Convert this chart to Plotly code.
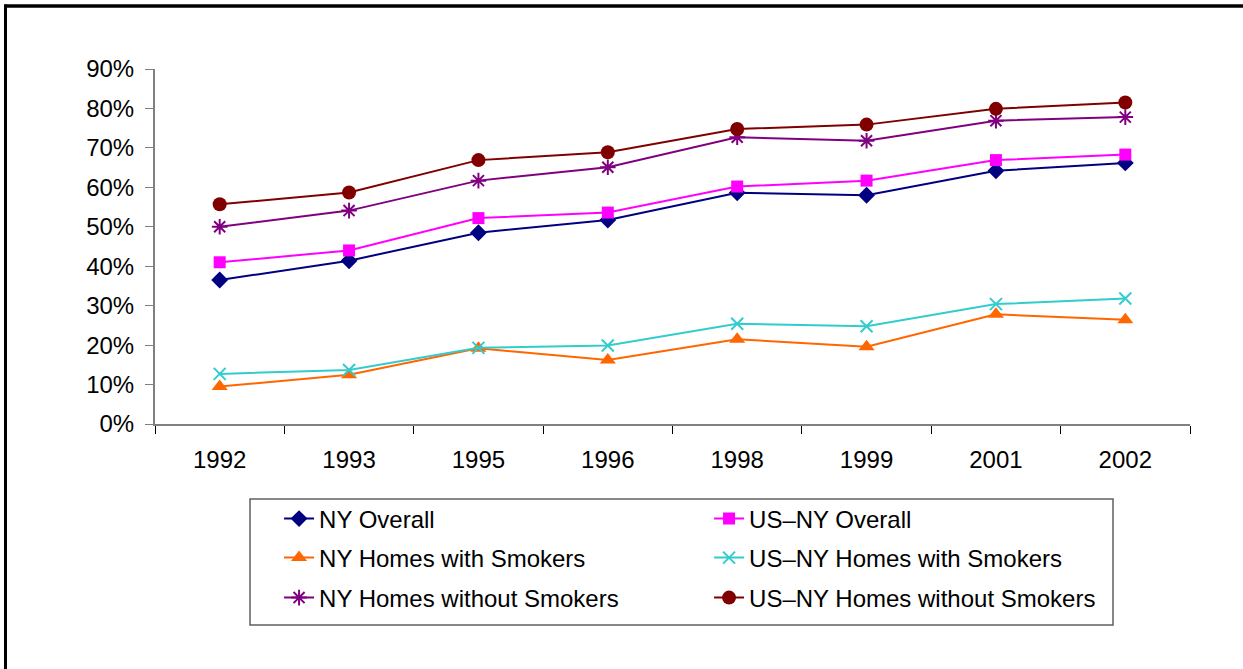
import plotly.graph_objects as go

years = ["1992", "1993", "1995", "1996", "1998", "1999", "2001", "2002"]

ny_overall = [0.365, 0.414, 0.485, 0.517, 0.586, 0.580, 0.642, 0.662]
usny_overall = [0.410, 0.440, 0.522, 0.536, 0.602, 0.617, 0.669, 0.683]
ny_with = [0.095, 0.125, 0.192, 0.162, 0.215, 0.196, 0.278, 0.264]
usny_with = [0.127, 0.137, 0.193, 0.199, 0.254, 0.248, 0.304, 0.318]
ny_without = [0.500, 0.541, 0.617, 0.651, 0.727, 0.718, 0.769, 0.778]
usny_without = [0.557, 0.587, 0.669, 0.689, 0.748, 0.759, 0.799, 0.815]

series = [
    ("NY Overall", ny_overall, "#000080", "diamond", 13, "legend"),
    ("US\u2013NY Overall", usny_overall, "#FF00FF", "square", 12, "legend"),
    ("NY Homes with Smokers", ny_with, "#FF6600", "triangle-up", 14, "legend2"),
    ("US\u2013NY Homes with Smokers", usny_with, "#33CCCC", "x-thin-open", 12, "legend2"),
    ("NY Homes without Smokers", ny_without, "#800080", "asterisk-open", 13, "legend3"),
    ("US\u2013NY Homes without Smokers", usny_without, "#800000", "circle", 14, "legend3"),
]

FONT = "Liberation Sans, Arial, sans-serif"
FS = 24

fig = go.Figure()
for name, vals, color, symbol, size, leg in series:
    open_sym = symbol.endswith("open")
    fig.add_trace(go.Scatter(
        x=years, y=vals, name=name, mode="lines+markers",
        line=dict(color=color, width=2),
        marker=dict(symbol=symbol, size=size, color=color,
                    line=dict(color=color, width=2 if open_sym else 0)),
        legend=leg,
    ))

legend_common = dict(
    orientation="h", xref="container", yref="container",
    xanchor="left", yanchor="middle",
    bgcolor="rgba(0,0,0,0)", borderwidth=0,
    font=dict(family=FONT, size=FS, color="#000000"),
    entrywidth=385,
)
LX = 0.2245

fig.update_layout(
    width=1243, height=669,
    margin=dict(l=155, r=53, t=69, b=245),
    paper_bgcolor="white", plot_bgcolor="white",
    font=dict(family=FONT, size=FS, color="#000000"),
    showlegend=True,
    legend=dict(x=LX, y=1 - 519 / 669, **legend_common),
    legend2=dict(x=LX, y=1 - 558 / 669, **legend_common),
    legend3=dict(x=LX, y=1 - 598 / 669, **legend_common),
    xaxis=dict(
        type="category", range=[-0.5, 7.5],
        showline=True, linecolor="#808080", linewidth=2,
        ticks="outside", tickson="boundaries", ticklen=8,
        tickcolor="#000000", tickwidth=1,
        showgrid=False, zeroline=False,
        tickfont=dict(family=FONT, size=FS, color="#000000"),
        ticklabelstandoff=13,
    ),
    yaxis=dict(
        range=[0, 0.9], dtick=0.1, tickformat=".0%",
        showline=True, linecolor="#808080", linewidth=2,
        ticks="outside", ticklen=8, tickcolor="#808080", tickwidth=1,
        showgrid=False, zeroline=False,
        tickfont=dict(family=FONT, size=FS, color="#000000"),
        ticklabelstandoff=6,
    ),
)

# legend box
fig.add_shape(type="rect", xref="paper", yref="paper",
              x0=(250 - 155) / 1035, x1=(1113 - 155) / 1035,
              y0=(424 - 625) / 355, y1=(424 - 499) / 355,
              line=dict(color="#606060", width=1.5), fillcolor="rgba(0,0,0,0)",
              layer="below")
# outer frame (top and left edges)
fig.add_shape(type="line", xref="paper", yref="paper",
              x0=(5.5 - 155) / 1035, x1=(1260 - 155) / 1035,
              y0=(424 - 6) / 355, y1=(424 - 6) / 355,
              line=dict(color="#000000", width=3.5))
fig.add_shape(type="line", xref="paper", yref="paper",
              x0=(5.5 - 155) / 1035, x1=(5.5 - 155) / 1035,
              y0=(424 - 690) / 355, y1=(424 - 4.3) / 355,
              line=dict(color="#000000", width=3))

fig.write_html("out.html", config={"displayModeBar": False},
               post_script="document.body.style.margin='0';")
